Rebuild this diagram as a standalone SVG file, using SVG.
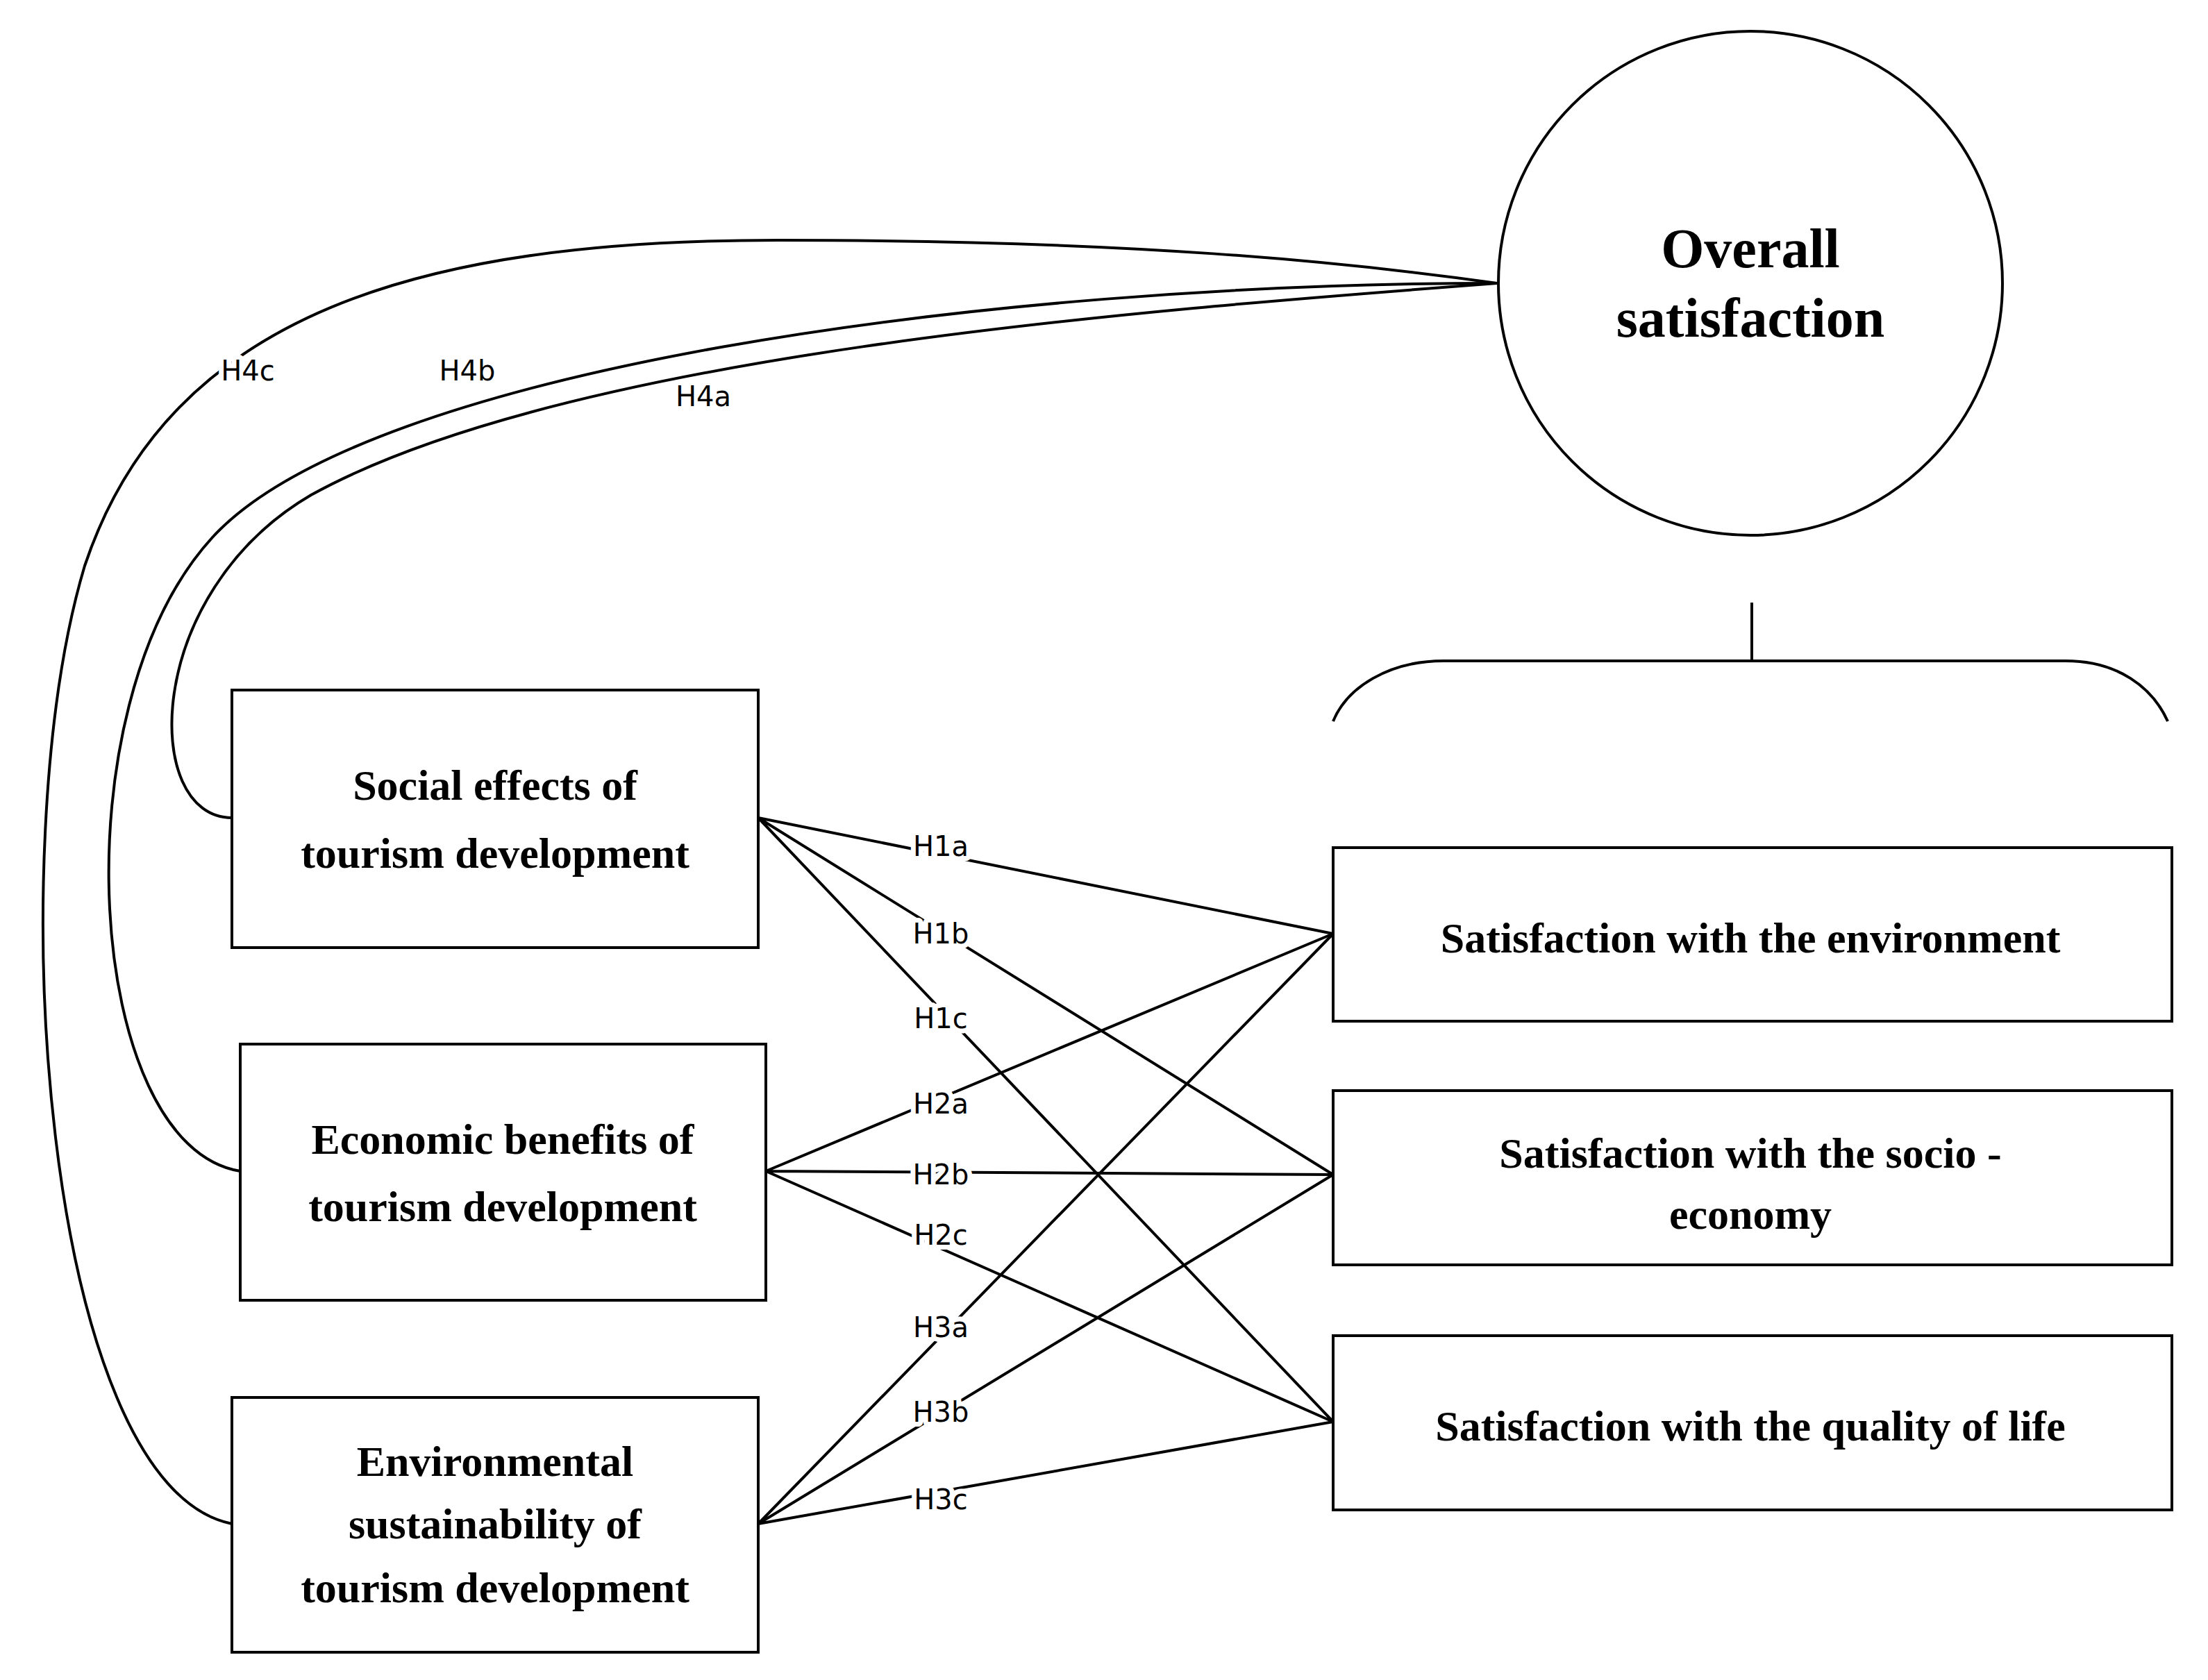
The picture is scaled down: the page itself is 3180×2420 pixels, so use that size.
<svg xmlns="http://www.w3.org/2000/svg" width="3180" height="2420" viewBox="0 0 3180 2420">
<style>
.box{fill:#fff;stroke:#000;stroke-width:4}
.t{font-family:"Liberation Serif",serif;font-weight:bold;font-size:62px;text-anchor:middle;fill:#000}
.big{font-size:80px}
.ln{fill:none;stroke:#000;stroke-width:4}
.lb{font-family:"DejaVu Sans","Liberation Sans",sans-serif;font-size:40px;text-anchor:middle;fill:#000;stroke:#fff;stroke-width:14px;paint-order:stroke;stroke-linejoin:round}
</style>
<rect width="3180" height="2420" fill="#fff"/>
<g id="connectors">
<path class="ln" d="M334,1178 C204,1178 204,856 448,713 C815,510 1630,448 2156,408"/>
<path class="ln" d="M346,1687 C122,1651 82,1019 306,774 C530,530 1427,408 2156,408"/>
<path class="ln" d="M334,2195 C61,2140 0,1223 122,815 C245,448 611,346 1121,346 C1630,346 1936,377 2156,408"/>
<path class="ln" d="M1092,1178 L1920,1345 M1092,1178 L1920,1692 M1092,1178 L1920,2048"/>
<path class="ln" d="M1103,1687 L1920,1345 M1103,1687 L1920,1692 M1103,1687 L1920,2048"/>
<path class="ln" d="M1092,2195 L1920,1345 M1092,2195 L1920,1692 M1092,2195 L1920,2048"/>
<path class="ln" d="M2523,868 L2523,952"/>
<path class="ln" d="M1920,1039 C1940,990 2000,952 2079,952 L2975,952 C3050,952 3100,990 3122,1039"/>
<text class="lb" x="1355" y="1233">H1a</text>
<text class="lb" x="1355" y="1359">H1b</text>
<text class="lb" x="1355" y="1481">H1c</text>
<text class="lb" x="1355" y="1604">H2a</text>
<text class="lb" x="1355" y="1706">H2b</text>
<text class="lb" x="1355" y="1793">H2c</text>
<text class="lb" x="1355" y="1926">H3a</text>
<text class="lb" x="1355" y="2048">H3b</text>
<text class="lb" x="1355" y="2174">H3c</text>
<text class="lb" x="357" y="548">H4c</text>
<text class="lb" x="673" y="548">H4b</text>
<text class="lb" x="1013" y="585">H4a</text>
</g>
<g id="overall">
<circle cx="2521" cy="408" r="363" fill="#fff" stroke="#000" stroke-width="4"/>
<text class="t big" x="2521" y="385">Overall</text>
<text class="t big" x="2521" y="485">satisfaction</text>
</g>
<g id="social">
<rect class="box" x="334" y="994" width="758" height="371"/>
<text class="t" x="713" y="1152">Social effects of</text>
<text class="t" x="713" y="1250">tourism development</text>
</g>
<g id="economic">
<rect class="box" x="346" y="1504" width="757" height="369"/>
<text class="t" x="724" y="1662">Economic benefits of</text>
<text class="t" x="724" y="1759">tourism development</text>
</g>
<g id="environmental">
<rect class="box" x="334" y="2013" width="758" height="367"/>
<text class="t" x="713" y="2126">Environmental</text>
<text class="t" x="713" y="2216">sustainability of</text>
<text class="t" x="713" y="2308">tourism development</text>
</g>
<g id="sat-env">
<rect class="box" x="1920" y="1221" width="1208" height="250"/>
<text class="t" x="2521" y="1372">Satisfaction with the environment</text>
</g>
<g id="sat-socio">
<rect class="box" x="1920" y="1571" width="1208" height="251"/>
<text class="t" x="2521" y="1682">Satisfaction with the socio -</text>
<text class="t" x="2521" y="1770">economy</text>
</g>
<g id="sat-qol">
<rect class="box" x="1920" y="1924" width="1208" height="251"/>
<text class="t" x="2521" y="2075">Satisfaction with the quality of life</text>
</g>
</svg>
